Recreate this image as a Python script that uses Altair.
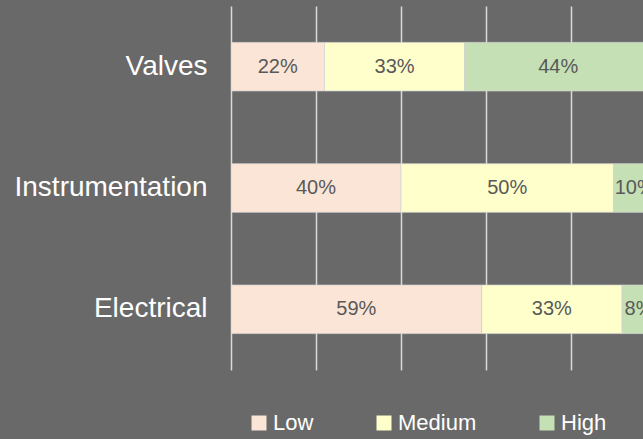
import altair as alt
import pandas as pd

categories = ["Valves", "Instrumentation", "Electrical"]
levels = ["Low", "Medium", "High"]
low = [0.22, 0.40, 0.59]
medium = [0.33, 0.50, 0.33]
high = [0.44, 0.10, 0.08]
level_colors = ["#FBE5D6", "#FFFFCC", "#C5E0B4"]
grid_values = [0, 0.2, 0.4, 0.6, 0.8, 1.0]

rows = []
for i, c in enumerate(categories):
    for r, (lv, vals) in enumerate(zip(levels, [low, medium, high])):
        rows.append({"category": c, "level": lv, "rank": r, "value": vals[i]})
df = pd.DataFrame(rows)

FONT = "Liberation Sans"

base = alt.Chart(df).transform_stack(
    stack="value", as_=["x0", "x1"], groupby=["category"],
    sort=[alt.SortField("rank", order="ascending")]
).transform_calculate(mid="(datum.x0 + datum.x1) / 2")

xscale = alt.Scale(domain=[0, 1], range=[0, 425], nice=False, zero=True)
yscale = alt.Scale(paddingInner=0.6, paddingOuter=0.3)

yaxis = alt.Axis(title=None, domain=False, ticks=False, labelPadding=24,
                 labelFontSize=28, labelColor="white", labelFont=FONT, grid=False,
                 labelBaseline="middle", labelLimit=0)
xaxis = alt.Axis(title=None, labels=False, ticks=False, domain=False,
                 values=grid_values, gridColor="#d9d9d9", gridWidth=1.5, gridOpacity=1)

bars = base.mark_bar(stroke="#d4d4d4", strokeWidth=0.75, clip=True).encode(
    y=alt.Y("category:N", sort=categories, scale=yscale, axis=yaxis),
    x=alt.X("x0:Q", scale=xscale, axis=xaxis),
    x2="x1:Q",
    color=alt.Color("level:N", scale=alt.Scale(domain=levels, range=level_colors),
                    legend=alt.Legend(orient="none", legendX=17, legendY=406,
                                      direction="horizontal", title=None,
                                      symbolType="square", symbolSize=225,
                                      symbolStrokeWidth=0, labelFontSize=22,
                                      labelColor="white", labelFont=FONT,
                                      columnPadding=59, labelOffset=3, padding=0)),
)

labels = base.mark_text(font=FONT, fontSize=20, color="#595959", clip=True,
                        baseline="middle", align="center").encode(
    y=alt.Y("category:N", sort=categories, scale=yscale),
    x=alt.X("mid:Q", scale=xscale),
    text=alt.Text("value:Q", format=".0%"),
)

chart = alt.layer(bars, labels).properties(
    width=412, height=364,
    background="#696969",
    padding={"left": 231, "top": 6, "right": 0, "bottom": 69},
    autosize=alt.AutoSizeParams(type="none"),
).configure_view(stroke=None)

chart.save("out.html", embed_options={"renderer": "svg", "actions": False})
